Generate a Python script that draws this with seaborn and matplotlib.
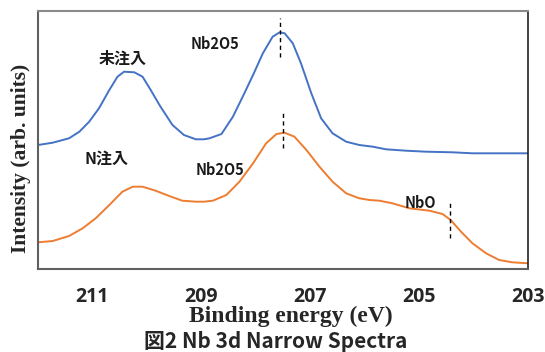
import pandas as pd
import matplotlib
matplotlib.use("Agg")
import matplotlib.pyplot as plt
import seaborn as sns

# Nb 3d narrow spectra (binding energy in eV, intensity arb.)
energy_ref = [212.0, 211.73, 211.43, 211.24, 211.06, 210.88, 210.69, 210.54, 210.42,
              210.23, 210.08, 209.93, 209.75, 209.53, 209.32, 209.10, 208.95, 208.85,
              208.63, 208.42, 208.24, 208.05, 207.87, 207.69, 207.56, 207.47, 207.32,
              207.17, 206.98, 206.80, 206.59, 206.34, 206.10, 205.85, 205.61, 205.24,
              204.87, 204.39, 204.02, 203.53, 203.0]
intensity_ref = [124.0, 126.3, 130.7, 137.3, 147.3, 160.7, 179.0, 192.3, 197.3,
                 196.7, 192.3, 179.0, 162.3, 144.0, 134.0, 129.7, 129.7, 130.7,
                 135.0, 152.3, 172.3, 194.0, 215.7, 232.3, 236.7, 235.7, 225.7,
                 205.7, 175.7, 150.7, 135.7, 127.3, 124.0, 122.3, 119.7, 118.3,
                 117.3, 116.7, 115.7, 115.7, 115.7]

energy_n = [212.0, 211.73, 211.43, 211.18, 210.94, 210.69, 210.45, 210.26, 210.08,
            209.84, 209.59, 209.35, 209.10, 208.95, 208.79, 208.54, 208.30, 208.05,
            207.81, 207.62, 207.47, 207.29, 207.07, 206.83, 206.59, 206.34, 206.10,
            205.91, 205.73, 205.49, 205.18, 204.81, 204.57, 204.42, 204.23, 204.02,
            203.77, 203.53, 203.29, 203.0]
intensity_n = [26.7, 28.0, 33.0, 40.7, 50.7, 64.0, 77.3, 82.3, 82.3,
               78.3, 73.0, 68.3, 67.3, 67.3, 68.3, 74.0, 87.3, 105.7,
               125.7, 135.0, 136.3, 132.3, 119.0, 102.3, 87.3, 75.7, 70.7,
               69.0, 68.3, 65.7, 60.7, 58.3, 55.0, 49.0, 37.3, 25.7,
               15.7, 9.0, 6.7, 5.7]

# peak markers: (energy, low, high)
peak_marks = [(207.56, 212.3, 250.7), (207.50, 120.7, 157.3), (204.43, 30.7, 68.3)]

# labels: (text, energy, intensity, size)
peak_labels = [("未注入", 210.44, 210.7, 11.5),
               ("Nb2O5", 208.74, 224.7, 10.5),
               ("N注入", 210.74, 110.0, 11.5),
               ("Nb2O5", 208.66, 99.0, 10.5),
               ("NbO", 204.98, 66.3, 10.5)]

x_ticks = [211, 209, 207, 205, 203]

df = pd.concat([
    pd.DataFrame({"energy": energy_ref, "intensity": intensity_ref, "sample": "ref"}),
    pd.DataFrame({"energy": energy_n, "intensity": intensity_n, "sample": "N"}),
])

sns.set_style("white")
plt.rcParams["font.family"] = ["Noto Sans CJK JP", "DejaVu Sans"]

fig = plt.figure(figsize=(5.45, 3.52), dpi=100)
ax = fig.add_axes([38 / 545, 83 / 352, 490 / 545, 258.5 / 352])

sns.lineplot(data=df, x="energy", y="intensity", hue="sample", ax=ax,
             palette={"ref": "#4472C4", "N": "#ED7D31"}, estimator=None,
             sort=False, linewidth=1.4, legend=False)

for e, lo, hi in peak_marks:
    ax.plot([e, e], [lo, hi], color="black", lw=1.0, ls=(0, (3, 2.5)))

for txt, e, inten, size in peak_labels:
    ax.text(e, inten, txt, ha="center", va="center", fontsize=size,
            fontweight="bold", color="#1a1a1a",
            family=["Noto Sans CJK JP", "DejaVu Sans"])

ax.set_xlim(212, 203)
ax.set_ylim(0, 258.5)
ax.set_xticks(x_ticks)
ax.set_xticklabels([str(t) for t in x_ticks], fontsize=14, fontweight="bold",
                   family="Open Sans")
ax.set_yticks([])
ax.set_xlabel("")
ax.set_ylabel("")
ax.tick_params(axis="x", direction="in", length=5, width=1, color="#505050", pad=13)

for side in ["left", "bottom"]:
    ax.spines[side].set_color("#606060")
    ax.spines[side].set_linewidth(1.5)
ax.spines["top"].set_color("#8a8a8a")
ax.spines["top"].set_linewidth(1.5)
ax.spines["right"].set_color("#222222")
ax.spines["right"].set_linewidth(1.2)

fig.text(21 / 545, 1 - 158 / 352, "Intensity (arb. units)", rotation=90,
         ha="center", va="center", fontsize=15.5, fontweight="bold",
         family="Liberation Serif")
fig.text(291 / 545, 1 - 316 / 352, "Binding energy (eV)", ha="center", va="center",
         fontsize=17, fontweight="bold", family="Liberation Serif")
fig.text(276 / 545, 1 - 341 / 352, "図2 Nb 3d Narrow Spectra", ha="center",
         va="center", fontsize=15, fontweight="bold",
         family=["Noto Sans CJK JP", "DejaVu Sans"])

fig.savefig("out.png", dpi=100)
